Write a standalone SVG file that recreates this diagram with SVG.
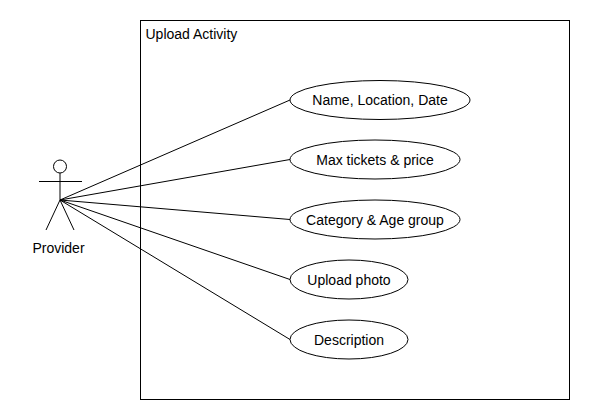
<svg xmlns="http://www.w3.org/2000/svg" width="590" height="420" viewBox="0 0 590 420">
<style>
.s{fill:none;stroke:#000;stroke-width:1}
.e{fill:#fff;stroke:#000;stroke-width:1}
text{font-family:"Liberation Sans",Arial,sans-serif;font-size:14px;fill:#000}
.c{text-anchor:middle}
</style>
<rect width="590" height="420" fill="#fff"/>
<g id="system">
<rect class="s" x="140.5" y="20.5" width="429" height="379"/>
<text x="145.5" y="39">Upload Activity</text>
</g>
<g id="connectors" class="s">
<line x1="60" y1="200" x2="290" y2="100"/>
<line x1="60" y1="200" x2="290" y2="159.5"/>
<line x1="60" y1="200" x2="290" y2="219.5"/>
<line x1="60" y1="200" x2="290" y2="279.5"/>
<line x1="60" y1="200" x2="290" y2="339.5"/>
</g>
<g id="provider">
<circle class="e" cx="60" cy="166.5" r="6.5"/>
<path class="s" d="M60 173V200M39 181.5H82M46 230L60 200L74 230"/>
<text class="c" x="58.5" y="252.5">Provider</text>
</g>
<g id="uc1">
<ellipse class="e" cx="380" cy="100" rx="90" ry="19.5"/>
<text class="c" x="380" y="105">Name, Location, Date</text>
</g>
<g id="uc2">
<ellipse class="e" cx="375" cy="159.5" rx="85" ry="19.5"/>
<text class="c" x="375" y="164.5">Max tickets &amp; price</text>
</g>
<g id="uc3">
<ellipse class="e" cx="375" cy="219.5" rx="85" ry="19.5"/>
<text class="c" x="375" y="224.5">Category &amp; Age group</text>
</g>
<g id="uc4">
<ellipse class="e" cx="349" cy="279.5" rx="59" ry="19.5"/>
<text class="c" x="349" y="284.5">Upload photo</text>
</g>
<g id="uc5">
<ellipse class="e" cx="349" cy="339.5" rx="59" ry="19.5"/>
<text class="c" x="349" y="344.5">Description</text>
</g>
</svg>
